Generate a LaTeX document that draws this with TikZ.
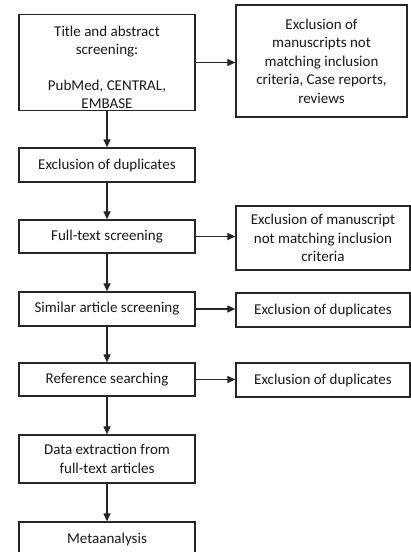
\documentclass[tikz,border=0pt]{standalone}
\usepackage{fontspec}
\setmainfont{Carlito}
\usetikzlibrary{arrows.meta}
\begin{document}
\begin{tikzpicture}[x=1pt,y=-1pt,
  box/.style={draw=black!85, line width=1.25pt, align=center, inner sep=2pt,
    font=\fontsize{15}{18.5}\selectfont, text=black!90},
  lbox/.style={box, minimum width=176pt},
  rbox/.style={box, minimum width=174pt},
  arr/.style={draw=black!85, line width=1.2pt, -{Triangle[length=8pt,width=7pt]}}]
\useasboundingbox (0,0) rectangle (411,552);
% left column
\node[lbox, minimum height=95pt] (A) at (107,62.5)
  {\rule{0pt}{20pt}Title and abstract\\screening:\\[17pt]PubMed, CENTRAL,\\EMBASE};
\node[lbox, minimum height=34pt] (B) at (107,165) {Exclusion of duplicates};
\node[lbox, minimum height=33pt] (C) at (107,236.5) {Full-text screening};
\node[lbox, minimum height=34pt] (D) at (107,309) {Similar article screening};
\node[lbox, minimum height=33pt] (E) at (107,379.5) {Reference searching};
\node[lbox, minimum height=48pt] (F) at (107,459) {Data extraction from\\full-text articles};
\node[lbox, minimum height=34pt] (G) at (107,539) {Metaanalysis};
% right column
\node[box, minimum width=171pt, minimum height=112pt] (R1) at (321.5,61)
  {Exclusion of\\manuscripts not\\matching inclusion\\criteria, Case reports,\\reviews};
\node[rbox, minimum height=64pt] (R2) at (323,238)
  {Exclusion of manuscript\\not matching inclusion\\criteria};
\node[rbox, minimum height=34pt] (R3) at (323,310) {Exclusion of duplicates};
\node[rbox, minimum height=34pt] (R4) at (323,380) {Exclusion of duplicates};
% vertical connectors
\draw[arr] (A) -- (B);
\draw[arr] (B) -- (C);
\draw[arr] (C) -- (D);
\draw[arr] (D) -- (E);
\draw[arr] (E) -- (F);
\draw[arr] (F) -- (G);
% horizontal connectors
\draw[arr] (A.east) -- (A.east -| R1.west);
\draw[arr] (C.east) -- (C.east -| R2.west);
\draw[arr] (D.east) -- (D.east -| R3.west);
\draw[arr] (E.east) -- (E.east -| R4.west);
\end{tikzpicture}
\end{document}
